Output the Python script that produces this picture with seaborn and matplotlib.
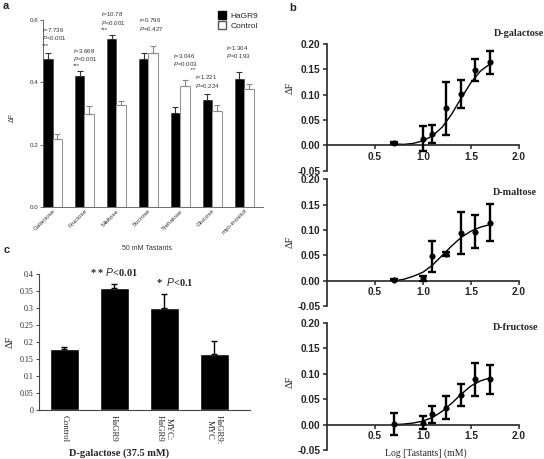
import matplotlib
matplotlib.use("Agg")
import matplotlib.pyplot as plt
import seaborn as sns
import pandas as pd
from matplotlib.patches import Patch

# ---- panel a data ----
sugars = ["Galactose", "Fructose", "Maltose", "Sucrose", "Trehalose", "Glucose", "myo-inositol"]
hagr9_vals = [0.476, 0.422, 0.540, 0.474, 0.303, 0.345, 0.410]
hagr9_err = [0.018, 0.016, 0.014, 0.021, 0.018, 0.017, 0.025]
control_vals = [0.217, 0.300, 0.327, 0.495, 0.389, 0.309, 0.380]
control_err = [0.019, 0.026, 0.015, 0.023, 0.020, 0.020, 0.016]
stat_labels = [
    ["$\\it{t}$=7.736", "$\\it{P}$<0.001", "***"],
    ["$\\it{t}$=3.668", "$\\it{P}$<0.001", "***"],
    ["$\\it{t}$=10.78", "$\\it{P}$<0.001", "***"],
    ["$\\it{t}$=0.796", "$\\it{P}$=0.427"],
    ["$\\it{t}$=3.046", "$\\it{P}$=0.003", "          **"],
    ["$\\it{t}$=1.221", "$\\it{P}$=0.224"],
    ["$\\it{t}$=1.304", "$\\it{P}$=0.193"],
]

# ---- panel b data ----
log_conc = [0.699, 1.0, 1.097, 1.243, 1.398, 1.544, 1.699]
galactose_y = [0.005, 0.013, 0.022, 0.073, 0.101, 0.149, 0.164]
galactose_err = [0.002, 0.025, 0.018, 0.053, 0.028, 0.021, 0.023]
maltose_y = [0.002, 0.005, 0.048, 0.052, 0.094, 0.097, 0.115]
maltose_err = [0.001, 0.005, 0.030, 0.004, 0.042, 0.033, 0.036]
fructose_y = [0.001, 0.004, 0.020, 0.033, 0.058, 0.089, 0.089]
fructose_err = [0.021, 0.012, 0.016, 0.023, 0.021, 0.032, 0.028]
fit_x = [0.70, 0.80, 0.90, 1.00, 1.10, 1.20, 1.30, 1.40, 1.50, 1.60, 1.70]
galactose_fit = [0.003, 0.002, 0.004, 0.009, 0.019, 0.036, 0.062, 0.094, 0.124, 0.147, 0.161]
maltose_fit = [0.000, 0.003, 0.009, 0.017, 0.031, 0.050, 0.069, 0.086, 0.098, 0.106, 0.111]
fructose_fit = [0.000, 0.001, 0.003, 0.007, 0.014, 0.026, 0.042, 0.060, 0.076, 0.086, 0.092]
curve_names = ["D-galactose", "D-maltose", "D-fructose"]

# ---- panel c data ----
constructs = ["Control", "HaGR9", "MYC:\nHaGR9", "HaGR9:\nMYC"]
construct_vals = [0.180, 0.360, 0.300, 0.166]
construct_err = [0.005, 0.010, 0.040, 0.037]

sns.set_style("ticks")
plt.rcParams["font.family"] = ["Liberation Sans", "DejaVu Sans"]
plt.rcParams["mathtext.fontset"] = "custom"
plt.rcParams["mathtext.it"] = "Liberation Sans:italic"
plt.rcParams["mathtext.rm"] = "Liberation Sans"

fig = plt.figure(figsize=(5.44, 4.59), dpi=100)

# ================= panel a =================
ax_a = fig.add_axes([0.079, 0.549, 0.405, 0.407])
df_a = pd.DataFrame({
    "sugar": sugars * 2,
    "group": ["HaGR9"] * len(sugars) + ["Control"] * len(sugars),
    "value": hagr9_vals + control_vals,
})
sns.barplot(data=df_a, x="sugar", y="value", hue="group",
            palette={"HaGR9": "black", "Control": "white"},
            width=0.6, errorbar=None, legend=False, ax=ax_a)
for bar in ax_a.containers[0]:
    bar.set_edgecolor("#444444")
    bar.set_linewidth(0.5)
for bar in ax_a.containers[1]:
    bar.set_edgecolor("#999999")
    bar.set_linewidth(0.8)
for cont, errs, col in [(ax_a.containers[0], hagr9_err, "#333333"),
                        (ax_a.containers[1], control_err, "#888888")]:
    xs = [b.get_x() + b.get_width() / 2 for b in cont]
    ys = [b.get_height() for b in cont]
    ax_a.errorbar(xs, ys, yerr=[[0] * len(errs), errs], fmt="none",
                  ecolor=col, elinewidth=0.8, capsize=2.2, capthick=0.8)

text_pos_a = [(-0.33, 0.512), (0.65, 0.445), (1.52, 0.563), (2.72, 0.560),
              (3.76, 0.429), (4.46, 0.377), (5.44, 0.471)]
for (tx, ty), lines in zip(text_pos_a, stat_labels):
    ax_a.text(tx, ty, "\n".join(lines), fontsize=4.4, color="#333333",
              ha="left", va="bottom", linespacing=1.05)

ax_a.set_xlim(-0.3, 6.6)
ax_a.set_ylim(0, 0.6)
ax_a.set_yticks([0, 0.2, 0.4, 0.6])
ax_a.set_yticklabels(["0.0", "0.2", "0.4", "0.6"])
ax_a.tick_params(axis="y", labelsize=4.5, length=2, width=0.5, colors="#333333", pad=1.5)
ax_a.tick_params(axis="x", labelsize=4.5, length=0, colors="#333333", pad=1)
plt.setp(ax_a.get_xticklabels(), rotation=45, ha="right", rotation_mode="anchor")
ax_a.set_xlabel("")
ax_a.set_ylabel("")
sns.despine(ax=ax_a)
for s in ["left", "bottom"]:
    ax_a.spines[s].set_linewidth(0.6)
    ax_a.spines[s].set_color("#555555")

handles = [Patch(facecolor="black", edgecolor="black", label="HaGR9"),
           Patch(facecolor="white", edgecolor="#555555", label="Control")]
fig.legend(handles=handles, loc="upper left", bbox_to_anchor=(0.393, 0.985),
           frameon=False, fontsize=6, handlelength=1.0, handleheight=1.0,
           handletextpad=0.5, labelspacing=0.2, borderpad=0)

fig.text(147 / 544, 1 - 248 / 459, "50 mM Tastants", fontsize=5, color="#333333",
         ha="center", va="center")
fig.text(12 / 544, 1 - 117 / 459, "ΔF", fontsize=5, rotation=90, color="#333333",
         ha="center", va="center")
fig.text(3 / 544, 1 - 6 / 459, "a", fontsize=8, fontweight="bold", ha="left", va="center")

# ================= panel b =================
serif = ["Liberation Serif", "DejaVu Serif"]
b_boxes = [[0.601, 0.628, 0.353, 0.276],
           [0.601, 0.333, 0.353, 0.276],
           [0.601, 0.0196, 0.353, 0.277]]
series_b = [(galactose_y, galactose_err, galactose_fit),
            (maltose_y, maltose_err, maltose_fit),
            (fructose_y, fructose_err, fructose_fit)]
name_pos = [(544, 33), (537, 192), (538, 328)]
ylab_y = [88, 242, 382]
for box, (ys, errs, fit), name, npos, yl in zip(b_boxes, series_b, curve_names, name_pos, ylab_y):
    ax = fig.add_axes(box)
    ax.errorbar(log_conc, ys, yerr=errs, fmt="none", ecolor="black",
                elinewidth=1.7, capsize=3.2, capthick=1.7, zorder=3)
    sns.lineplot(x=fit_x, y=fit, color="black", linewidth=1.0, ax=ax)
    sns.scatterplot(x=log_conc, y=ys, color="black", s=16, edgecolor="black",
                    zorder=4, ax=ax)
    ax.set_xlim(0, 2.0)
    ax.set_ylim(-0.05, 0.20)
    ax.set_xticks([0.5, 1.0, 1.5, 2.0])
    ax.set_yticks([-0.05, 0.0, 0.05, 0.10, 0.15, 0.20])
    ax.set_yticklabels(["-0.05", "0.00", "0.05", "0.10", "0.15", "0.20"])
    ax.spines["bottom"].set_position(("data", 0))
    sns.despine(ax=ax)
    for s in ["left", "bottom"]:
        ax.spines[s].set_linewidth(1.2)
    ax.tick_params(labelsize=7.3, length=3, width=1.1, pad=1.5)
    for lab in ax.get_xticklabels() + ax.get_yticklabels():
        lab.set_fontweight("bold")
    fig.text(npos[0] / 544, 1 - npos[1] / 459, name, fontsize=7.3, fontweight="bold",
             family=serif, ha="right", va="center")
    fig.text(290 / 544, 1 - yl / 459, "ΔF", fontsize=7.5, family=serif,
             rotation=90, ha="center", va="center")

fig.text(426 / 544, 1 - 453 / 459, "Log [Tastants] (mM)", fontsize=7, family=serif,
         ha="center", va="center")
fig.text(293 / 544, 1 - 8 / 459, "b", fontsize=8, fontweight="bold", ha="center", va="center")

# ================= panel c =================
ax_c = fig.add_axes([0.072, 0.107, 0.388, 0.296])
sns.barplot(x=constructs, y=construct_vals, color="black", width=0.58,
            errorbar=None, ax=ax_c)
xs_c = [b.get_x() + b.get_width() / 2 for b in ax_c.containers[0]]
ax_c.errorbar(xs_c, construct_vals, yerr=[[0] * len(construct_err), construct_err],
              fmt="none", ecolor="black", elinewidth=1.0, capsize=2.5, capthick=1.0)
ax_c.set_xlim(-0.5, 3.72)
ax_c.set_ylim(0, 0.4)
yt = [0, 0.05, 0.1, 0.15, 0.2, 0.25, 0.3, 0.35, 0.4]
ax_c.set_yticks(yt)
ax_c.set_yticklabels(["0", "0.05", "0.1", "0.15", "0.2", "0.25", "0.3", "0.35", "0.4"],
                     family=serif)
ax_c.set_xticks(range(len(constructs)))
ax_c.set_xticklabels(constructs, family=serif, rotation=-90, va="top", ha="center")
ax_c.tick_params(axis="y", labelsize=5.8, length=2, width=0.6, pad=2)
ax_c.tick_params(axis="x", labelsize=6.3, length=0, pad=4)
sns.despine(ax=ax_c)
for s in ["left", "bottom"]:
    ax_c.spines[s].set_linewidth(0.8)
    ax_c.spines[s].set_color("#444444")
ax_c.text(1, 0.405, "* * $\\it{P}$<0.01", fontsize=7.5, family=serif, fontweight="bold",
          ha="center", va="center", clip_on=False)
ax_c.text(2.22, 0.377, "*  $\\it{P}$<0.1", fontsize=7.5, family=serif, fontweight="bold",
          ha="center", va="center", clip_on=False)
fig.text(119 / 544, 1 - 453 / 459, "D-galactose (37.5 mM)", fontsize=7.5, family=serif,
         fontweight="bold", ha="center", va="center")
fig.text(10 / 544, 1 - 342 / 459, "ΔF", fontsize=7.5, family=serif, rotation=90,
         ha="center", va="center")
fig.text(4 / 544, 1 - 250 / 459, "c", fontsize=8, fontweight="bold", ha="left", va="center")

fig.savefig("out.png", dpi=100)
